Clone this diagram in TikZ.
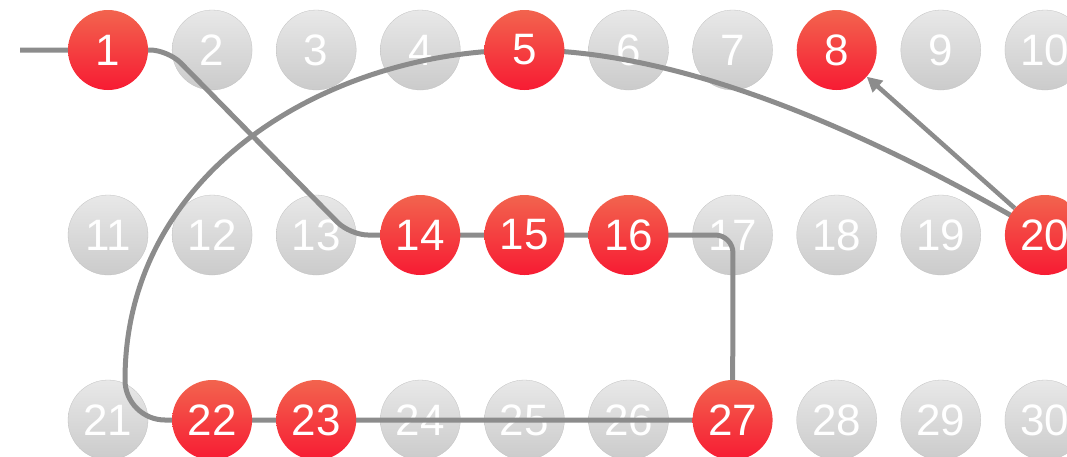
\documentclass[tikz,border=0pt]{standalone}
\usepackage{fontspec}
\setmainfont{Liberation Sans}
\usetikzlibrary{arrows.meta}
\pgfdeclarelayer{bg}
\pgfdeclarelayer{mid}
\pgfsetlayers{bg,mid,main}
\definecolor{linegray}{HTML}{8C8C8C}
\definecolor{gtop}{HTML}{E8E8E8}
\definecolor{gbot}{HTML}{CBCBCB}
\definecolor{rtop}{HTML}{F2644E}
\definecolor{rbot}{HTML}{F71B33}
\tikzset{
  ball/.style={circle, minimum size=80pt, inner sep=0pt, text=white,
    font=\fontsize{44}{44}\selectfont},
  gnode/.style={ball, top color=gtop, bottom color=gbot, draw=gbot!95!black, line width=0.3pt},
  rnode/.style={ball, top color=rtop, bottom color=rbot},
  conn/.style={draw=linegray, line width=5pt},
}
\begin{document}
\begin{tikzpicture}[x=1pt,y=-1pt]
\useasboundingbox (0,0) rectangle (1067,456);
\begin{pgfonlayer}{bg}
\foreach \n in {2,3,4,6,7,9,10,11,12,13,17,18,19,21,24,25,26,28,29,30}{
  \pgfmathsetmacro\xx{108+104.1*mod(\n-1,10)}
  \pgfmathsetmacro\yy{50+185*int((\n-1)/10)}
  \node[gnode] (n\n) at (\xx,\yy) {\n};
}
\end{pgfonlayer}
\foreach \n in {1,5,8,14,15,16,20,22,23,27}{
  \pgfmathsetmacro\xx{108+104.1*mod(\n-1,10)}
  \pgfmathsetmacro\yy{50+185*int((\n-1)/10)}
  \node[rnode] (n\n) at (\xx,\yy) {\n};
}
\coordinate (start) at (20,50);
\coordinate (b1) at (168,50);
\coordinate (b2) at (350,235);
\coordinate (b3) at (733,235);
\coordinate (b4) at (165,420);
\coordinate (c4a) at (143,420);
\coordinate (c4b) at (125,402);
\coordinate (b5) at (125,380);
\coordinate (c5a) at (125,170);
\coordinate (c5b) at (330,50);
\coordinate (c6a) at (700,50);
\coordinate (c6b) at (900,150);
\begin{pgfonlayer}{mid}
\draw[conn, rounded corners=18pt] (start) -- (n1.center) -- (b1) -- (b2) -- (n14.center) -- (n15.center) -- (n16.center) -- (b3) -- (n27.center);
\draw[conn] (n27.center) -- (n23.center) -- (n22.center) -- (b4)
  .. controls (c4a) and (c4b) .. (b5)
  .. controls (c5a) and (c5b) .. (n5.center)
  .. controls (c6a) and (c6b) .. (n20.center);
\draw[conn, line width=4.5pt, -{Triangle[length=15pt,width=15pt]}] (n20) -- (n8);
\end{pgfonlayer}
\end{tikzpicture}
\end{document}
